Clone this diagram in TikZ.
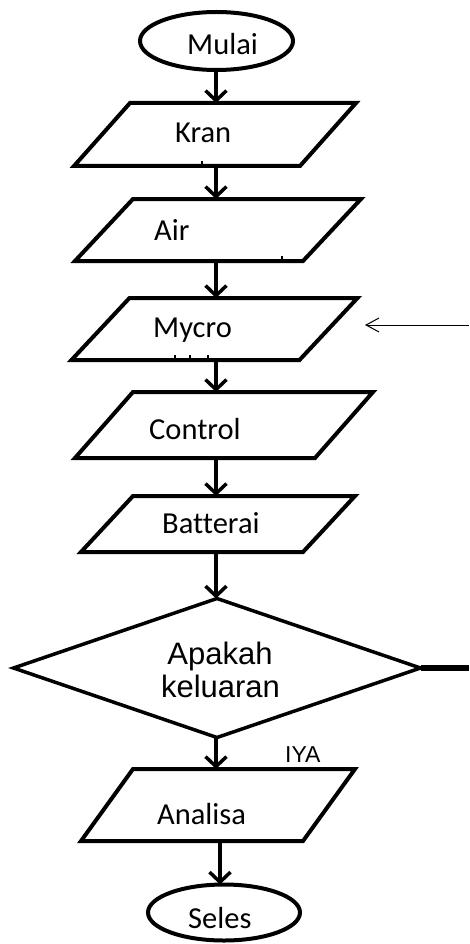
\documentclass[tikz,border=0pt]{standalone}
\usepackage{fontspec}
\setmainfont{Carlito}[Ligatures=NoCommon]
\newfontfamily\arialf{Liberation Sans}
\usetikzlibrary{shapes.geometric,arrows.meta}
\newcommand\paragram[2]{%
  \draw[pline] ([xshift=#2]#1.north west) -- (#1.north east) -- ([xshift=-#2]#1.south east) -- (#1.south west) -- cycle;}
\begin{document}
\begin{tikzpicture}[x=1pt,y=-1pt,
  pline/.style={line width=4pt, line join=miter},
  box/.style={rectangle, inner sep=0pt, outer sep=0pt},
  term/.style={ellipse, draw, line width=4pt, inner sep=0pt, outer sep=0pt},
  lbl/.style={anchor=base west, inner sep=0pt, font=\fontsize{30.5}{33}\selectfont},
  albl/.style={anchor=base, inner sep=0pt, font=\arialf\fontsize{31}{33}\selectfont},
  arr/.style={line width=3.5pt, -{Straight Barb[length=10pt,width=21pt]}},
  tick/.style={line width=1.2pt},
]
\fill[white] (0,0) rectangle (469,944);
\useasboundingbox (0,0) rectangle (469,944);

% terminals
\node[term, minimum width=153pt, minimum height=58pt] (mulai) at (216.5,41) {};
\node[term, minimum width=152pt, minimum height=56pt] (seles) at (224,912.5) {};

% parallelograms
\node[box, minimum width=282pt, minimum height=63pt] (kran) at (215,134.5) {};
\node[box, minimum width=286pt, minimum height=62pt] (air) at (218,230) {};
\node[box, minimum width=286pt, minimum height=62pt] (mycro) at (214.5,329) {};
\node[box, minimum width=298pt, minimum height=66pt] (control) at (224,425) {};
\node[box, minimum width=274pt, minimum height=56pt] (batt) at (218,524) {};
\node[box, minimum width=274pt, minimum height=72pt] (analisa) at (218,805) {};
\paragram{kran}{56}
\paragram{air}{58}
\paragram{mycro}{58}
\paragram{control}{58}
\paragram{batt}{52}
\paragram{analisa}{52}

% decision
\node[diamond, draw, line width=3.5pt, aspect=2.93, minimum width=407pt, minimum height=139pt, inner sep=0pt, outer sep=0pt] (dec) at (217,668) {};

% labels
\node[lbl] (tmulai) at (187,55) {Mulai};
\node[lbl] (tkran) at (175,143) {Kran};
\node[lbl] (tair) at (154,240) {Air};
\node[lbl] (tmycro) at (153,337) {Mycro};
\node[lbl] (tcontrol) at (149,439) {Control};
\node[lbl] (tbatt) at (162,533) {Batterai};
\node[lbl] (tanalisa) at (157,824) {Analisa};
\node[lbl] (tseles) at (188,928) {Seles};
\node[albl] (tdec1) at (220,664) {Apakah};
\node[albl] (tdec2) at (220.5,697) {keluaran};
\node[anchor=base west, inner sep=0pt, font=\arialf\fontsize{23}{26}\selectfont] (tiya) at (285,762) {IYA};

% connectors
\coordinate (ax) at (216,0);
\coordinate (bx) at (220,0);
\draw[arr] (mulai.south -| ax) -- (kran.north -| ax);
\draw[arr] (kran.south -| ax) -- (air.north -| ax);
\draw[arr] (air.south -| ax) -- (mycro.north -| ax);
\draw[arr] (mycro.south -| ax) -- (control.north -| ax);
\draw[arr] (control.south -| ax) -- (batt.north -| ax);
\draw[arr] (batt.south -| ax) -- (dec.north -| ax);
\draw[arr] (dec.south -| ax) -- (analisa.north -| ax);
\draw[arr] (analisa.south -| bx) -- (seles.north -| bx);

\coordinate (dend) at (469,668);
\draw[line width=5.5pt] (dec.east) -- (dend);

\coordinate (msrc) at (469,325);
\coordinate (mtip) at (365,325);
\draw[line width=1pt, -{Straight Barb[length=13pt,width=14pt]}] (msrc) -- (mtip);

% small marks
\draw[tick] (202,161) -- (202,164);
\draw[tick] (282,256) -- (282,259);
\draw[tick] (175,355) -- (175,359);
\draw[tick] (190,355) -- (190,359);
\draw[tick] (208,355) -- (208,359);
\end{tikzpicture}
\end{document}
